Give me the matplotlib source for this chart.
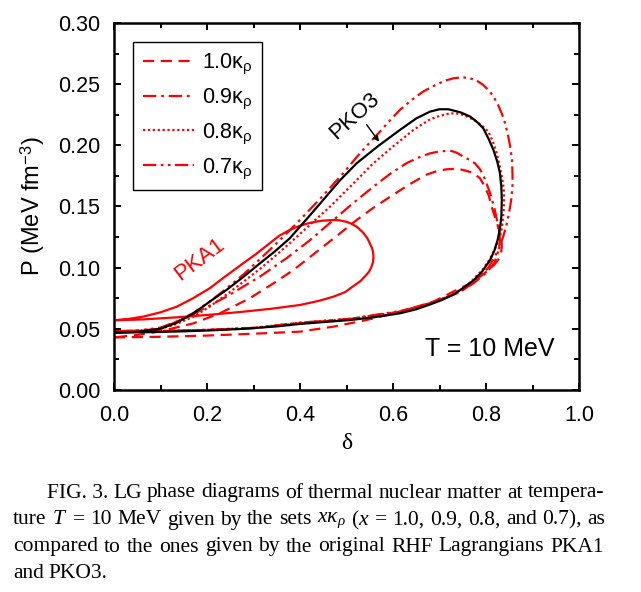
import matplotlib
matplotlib.use("Agg")
import matplotlib.pyplot as plt
from matplotlib.ticker import MultipleLocator, FormatStrFormatter

plt.rcParams['font.family'] = ['Liberation Sans', 'DejaVu Sans']
plt.rcParams['mathtext.fontset'] = 'custom'
plt.rcParams['mathtext.rm'] = 'Liberation Sans'
plt.rcParams['mathtext.it'] = 'Liberation Serif:italic'
plt.rcParams['mathtext.bf'] = 'Liberation Sans:bold'

RED = '#ff0000'

# PKO3 (black solid), loop starting at delta = 0
pko3_d = [0.000, 0.063, 0.135, 0.206, 0.278, 0.350, 0.400, 0.450, 0.508, 0.560, 0.615, 0.650,
          0.680, 0.705, 0.730, 0.755, 0.773, 0.792, 0.809, 0.818, 0.825, 0.830, 0.833, 0.834,
          0.833, 0.830, 0.824, 0.816, 0.806, 0.794, 0.781, 0.766, 0.745, 0.719, 0.700, 0.680,
          0.650, 0.615, 0.570, 0.522, 0.485, 0.450, 0.415, 0.378, 0.345, 0.314, 0.280, 0.242,
          0.205, 0.171, 0.135, 0.099, 0.050, 0.000]
pko3_p = [0.0470, 0.0472, 0.0478, 0.0487, 0.0500, 0.0520, 0.0540, 0.0555, 0.0572, 0.0595, 0.0627, 0.0660,
          0.0700, 0.0735, 0.0780, 0.0845, 0.0895, 0.0970, 0.1063, 0.1140, 0.1226, 0.1320, 0.1417, 0.1554,
          0.1660, 0.1772, 0.1870, 0.1962, 0.2050, 0.2140, 0.2190, 0.2235, 0.2270, 0.2295, 0.2295, 0.2276,
          0.2220, 0.2126, 0.2000, 0.1854, 0.1710, 0.1554, 0.1400, 0.1240, 0.1130, 0.1036, 0.0930, 0.0818,
          0.0720, 0.0627, 0.0550, 0.0500, 0.0475, 0.0470]

# PKA1 (red solid)
pka1_d = [0.000, 0.063, 0.135, 0.206, 0.278, 0.340, 0.400, 0.440, 0.472, 0.497, 0.515, 0.530,
          0.540, 0.548, 0.553, 0.557, 0.558, 0.557, 0.555, 0.550, 0.545, 0.535, 0.522, 0.510,
          0.500, 0.485, 0.472, 0.445, 0.420, 0.398, 0.378, 0.355, 0.335, 0.305, 0.278, 0.240,
          0.206, 0.170, 0.135, 0.100, 0.063, 0.030, 0.000]
pka1_p = [0.0570, 0.0577, 0.0594, 0.0615, 0.0640, 0.0665, 0.0695, 0.0728, 0.0763, 0.0800, 0.0850, 0.0890,
          0.0930, 0.0965, 0.1000, 0.1045, 0.1090, 0.1130, 0.1160, 0.1200, 0.1240, 0.1290, 0.1335, 0.1360,
          0.1375, 0.1387, 0.1390, 0.1383, 0.1365, 0.1340, 0.1308, 0.1260, 0.1200, 0.1110, 0.1036, 0.0930,
          0.0832, 0.0750, 0.0681, 0.0635, 0.0600, 0.0580, 0.0570]

# 1.0 kappa_rho (dashed)
k10_d = [0.000, 0.100, 0.200, 0.300, 0.400, 0.472, 0.543, 0.615, 0.687, 0.737, 0.765, 0.787,
         0.805, 0.818, 0.826, 0.832, 0.834, 0.833, 0.830, 0.825, 0.819, 0.812, 0.806, 0.795,
         0.787, 0.772, 0.751, 0.735, 0.715, 0.695, 0.672, 0.635, 0.594, 0.558, 0.522, 0.486,
         0.450, 0.386, 0.343, 0.292, 0.228, 0.171, 0.100, 0.050, 0.000]
k10_p = [0.0430, 0.0435, 0.0445, 0.0460, 0.0477, 0.0518, 0.0572, 0.0640, 0.0722, 0.0818, 0.0870, 0.0925,
         0.0980, 0.1025, 0.1063, 0.1110, 0.1172, 0.1230, 0.1280, 0.1350, 0.1417, 0.1500, 0.1590, 0.1680,
         0.1731, 0.1775, 0.1799, 0.1808, 0.1804, 0.1790, 0.1760, 0.1680, 0.1580, 0.1490, 0.1390, 0.1280,
         0.1172, 0.0981, 0.0872, 0.0750, 0.0627, 0.0545, 0.0480, 0.0450, 0.0430]

# 0.9 kappa_rho (dash-dot)
k09_d = [0.000, 0.100, 0.200, 0.300, 0.400, 0.508, 0.615, 0.680, 0.737, 0.773, 0.795, 0.809,
         0.818, 0.823, 0.828, 0.830, 0.829, 0.826, 0.823, 0.819, 0.814, 0.809, 0.802, 0.794,
         0.786, 0.776, 0.765, 0.751, 0.737, 0.723, 0.700, 0.680, 0.655, 0.629, 0.595, 0.558,
         0.515, 0.472, 0.420, 0.371, 0.314, 0.242, 0.171, 0.100, 0.050, 0.000]
k09_p = [0.0480, 0.0482, 0.0490, 0.0505, 0.0545, 0.0580, 0.0640, 0.0710, 0.0790, 0.0872, 0.0940, 0.0995,
         0.1040, 0.1090, 0.1160, 0.1226, 0.1280, 0.1335, 0.1400, 0.1470, 0.1540, 0.1608, 0.1680, 0.1758,
         0.1810, 0.1854, 0.1880, 0.1908, 0.1940, 0.1957, 0.1950, 0.1935, 0.1900, 0.1854, 0.1770, 0.1662,
         0.1530, 0.1390, 0.1220, 0.1077, 0.0927, 0.0763, 0.0620, 0.0500, 0.0485, 0.0480]

# 0.8 kappa_rho (dotted)
k08_d = [0.000, 0.100, 0.200, 0.300, 0.400, 0.508, 0.615, 0.680, 0.723, 0.750, 0.773, 0.792,
         0.809, 0.820, 0.830, 0.834, 0.836, 0.838, 0.839, 0.838, 0.834, 0.829, 0.823, 0.815,
         0.805, 0.793, 0.780, 0.765, 0.751, 0.737, 0.723, 0.700, 0.680, 0.662, 0.644, 0.600,
         0.558, 0.510, 0.465, 0.420, 0.378, 0.345, 0.314, 0.280, 0.242, 0.205, 0.171, 0.135,
         0.100, 0.050, 0.000]
k08_p = [0.0480, 0.0482, 0.0492, 0.0508, 0.0550, 0.0582, 0.0640, 0.0710, 0.0770, 0.0825, 0.0905, 0.0980,
         0.1075, 0.1160, 0.1254, 0.1320, 0.1390, 0.1470, 0.1554, 0.1650, 0.1744, 0.1840, 0.1935, 0.2030,
         0.2112, 0.2155, 0.2194, 0.2225, 0.2249, 0.2260, 0.2262, 0.2240, 0.2213, 0.2170, 0.2126, 0.1990,
         0.1854, 0.1670, 0.1500, 0.1345, 0.1200, 0.1090, 0.0990, 0.0890, 0.0780, 0.0680, 0.0600, 0.0540,
         0.0500, 0.0485, 0.0480]

# 0.7 kappa_rho (dash-dot-dot)
k07_d = [0.000, 0.100, 0.200, 0.300, 0.400, 0.508, 0.615, 0.665, 0.708, 0.730, 0.751, 0.770,
         0.787, 0.805, 0.819, 0.829, 0.837, 0.843, 0.848, 0.852, 0.855, 0.857, 0.857, 0.856,
         0.852, 0.847, 0.841, 0.834, 0.826, 0.816, 0.805, 0.793, 0.780, 0.764, 0.748, 0.730,
         0.712, 0.690, 0.665, 0.640, 0.615, 0.595, 0.572, 0.530, 0.493, 0.445, 0.393, 0.350,
         0.314, 0.280, 0.242, 0.205, 0.171, 0.135, 0.100, 0.050, 0.000]
k07_p = [0.0480, 0.0482, 0.0492, 0.0508, 0.0550, 0.0582, 0.0645, 0.0690, 0.0750, 0.0780, 0.0818, 0.0870,
         0.0927, 0.1000, 0.1090, 0.1170, 0.1254, 0.1330, 0.1417, 0.1500, 0.1580, 0.1670, 0.1758, 0.1880,
         0.1990, 0.2090, 0.2180, 0.2260, 0.2330, 0.2400, 0.2453, 0.2497, 0.2529, 0.2550, 0.2556, 0.2548,
         0.2529, 0.2490, 0.2440, 0.2370, 0.2290, 0.2210, 0.2112, 0.1940, 0.1772, 0.1570, 0.1363, 0.1200,
         0.1070, 0.0950, 0.0830, 0.0720, 0.0630, 0.0560, 0.0510, 0.0485, 0.0480]

legend_labels = ['1.0κ$_{\\mathrm{ρ}}$', '0.9κ$_{\\mathrm{ρ}}$', '0.8κ$_{\\mathrm{ρ}}$', '0.7κ$_{\\mathrm{ρ}}$']

caption = [
    (['FIG. 3.', 'LG', 'phase', 'diagrams', 'of', 'thermal', 'nuclear', 'matter', 'at', 'tempera-'], 47, 604),
    (['ture', '$T$', '=', '10', 'MeV', 'given', 'by', 'the', 'sets', '$x\\kappa_\\rho$', '($x$', '=',
      '1.0,', '0.9,', '0.8,', 'and', '0.7),', 'as'], 13, 605),
    (['compared', 'to', 'the', 'ones', 'given', 'by', 'the', 'original', 'RHF', 'Lagrangians', 'PKA1'], 13, 604),
    (['and', 'PKO3.'], 13, None),
]
caption_y = [493, 520, 547, 574]

W, H = 641, 592
fig = plt.figure(figsize=(W / 100, H / 100), dpi=100)
ax = fig.add_axes([114 / W, 1 - 390 / H, 465 / W, 367 / H])

ax.plot(k10_d, k10_p, color=RED, lw=1.6, ls=(0, (5, 3)), label=legend_labels[0])
ax.plot(k09_d, k09_p, color=RED, lw=1.6, ls=(0, (6, 2.2, 1.2, 2.2)), label=legend_labels[1])
ax.plot(k08_d, k08_p, color=RED, lw=1.6, ls=(0, (1, 1.2)), label=legend_labels[2])
ax.plot(k07_d, k07_p, color=RED, lw=1.6, ls=(0, (6, 2, 1.2, 2, 1.2, 2)), label=legend_labels[3])
ax.plot(pka1_d, pka1_p, color=RED, lw=1.6)
ax.plot(pko3_d, pko3_p, color='black', lw=1.6)

ax.set_xlim(0, 1.0)
ax.set_ylim(0, 0.30)
ax.xaxis.set_major_locator(MultipleLocator(0.2))
ax.xaxis.set_minor_locator(MultipleLocator(0.1))
ax.yaxis.set_major_locator(MultipleLocator(0.05))
ax.yaxis.set_minor_locator(MultipleLocator(0.025))
ax.xaxis.set_major_formatter(FormatStrFormatter('%.1f'))
ax.yaxis.set_major_formatter(FormatStrFormatter('%.2f'))
ax.tick_params(which='both', direction='in', top=True, right=True, width=1.4, labelsize=15.5)
ax.tick_params(which='major', length=5)
ax.tick_params(which='minor', length=3.5)
ax.tick_params(axis='x', pad=11)
ax.tick_params(axis='y', pad=10)
for s in ax.spines.values():
    s.set_linewidth(1.8)

ax.set_xlabel('δ', family='Liberation Serif', fontsize=17, labelpad=5)
ax.set_ylabel('P (MeV fm$^{-3}$)', fontsize=17, labelpad=8)

ax.text(0.185, 0.107, 'PKA1', color=RED, fontsize=16, rotation=37, ha='center', va='center')
ax.text(0.518, 0.224, 'PKO3', color='black', fontsize=16, rotation=42, ha='center', va='center')
ax.annotate('', xy=(0.570, 0.203), xytext=(0.543, 0.217),
            arrowprops=dict(arrowstyle='-|>', color='black', lw=1, mutation_scale=8, shrinkA=0, shrinkB=0))
ax.text(0.809, 0.0335, 'T = 10 MeV', fontsize=18, ha='center', va='center')

leg = ax.legend(loc='upper left', bbox_to_anchor=(0.041, 0.948), borderaxespad=0, fontsize=15.5,
                frameon=True, fancybox=False, edgecolor='black', framealpha=1, handlelength=2.4,
                handletextpad=0.35, labelspacing=0.48, borderpad=0.45)
leg.get_frame().set_linewidth(1.0)

# caption, justified line by line
fig.canvas.draw()
r = fig.canvas.get_renderer()
for (words, left, right), py in zip(caption, caption_y):
    texts = [fig.text(0, 1 - py / H, w, family='Liberation Serif', fontsize=15.5, va='center') for w in words]
    widths = [t.get_window_extent(r).width for t in texts]
    if right is None:
        gap = 5
    else:
        gap = (right - left - sum(widths)) / (len(words) - 1)
    x = left
    for t, w in zip(texts, widths):
        t.set_x(x / W)
        x += w + gap

fig.savefig('out.png', dpi=100)
